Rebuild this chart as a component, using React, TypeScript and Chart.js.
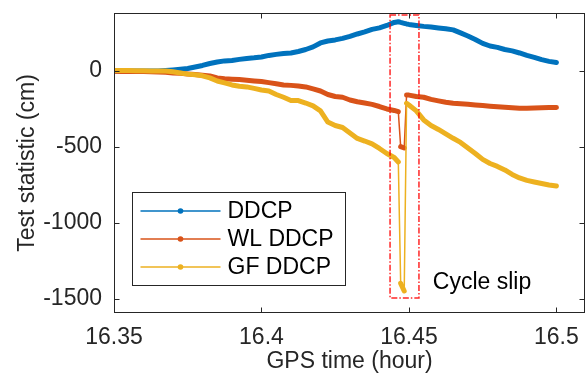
import React, { useEffect, useRef } from 'react';
import { Chart, registerables } from 'chart.js';

Chart.register(...registerables);

// GPS time (hour)
const times = [
  16.35, 16.3525, 16.355, 16.3575, 16.36, 16.3625, 16.365, 16.3675, 16.37, 16.3725,
  16.375, 16.3775, 16.38, 16.3825, 16.385, 16.3875, 16.39, 16.3925, 16.395, 16.3975,
  16.4, 16.4025, 16.405, 16.4075, 16.41, 16.4125, 16.415, 16.4175, 16.42, 16.4225,
  16.425, 16.4275, 16.43, 16.4325, 16.435, 16.4375, 16.44, 16.4425, 16.445,
  16.4464, 16.4472, 16.4484, 16.4492,
  16.45, 16.4525, 16.455, 16.4575, 16.46, 16.4625, 16.465, 16.4675, 16.47, 16.4725,
  16.475, 16.4775, 16.48, 16.4825, 16.485, 16.4875, 16.49, 16.4925, 16.495, 16.4975,
  16.5,
];

const ddcp = [
  0, 0, 0, 0, 0, 0, 0, 3, 7, 11,
  16, 26, 36, 49, 59, 66, 69, 76, 82, 86,
  92, 102, 109, 115, 118, 128, 141, 158, 184, 197,
  204, 214, 227, 243, 257, 273, 283, 299, 319,
  324, 319, 313, 309,
  306, 299, 293, 289, 283, 278, 270, 250, 230, 207,
  181, 164, 155, 141, 132, 118, 102, 89, 74, 63,
  55,
];

const wlDdcp = [
  -2, -3, -3, -4, -4, -5, -7, -9, -13, -16,
  -20, -24, -28, -33, -46, -51, -54, -57, -61, -66,
  -70, -77, -84, -92, -95, -99, -105, -118, -132, -155,
  -168, -173, -191, -203, -211, -220, -234, -250, -260,
  -268, -498, -507, -158,
  -159, -168, -173, -187, -197, -206, -213, -216, -219, -224,
  -228, -232, -235, -239, -242, -245, -245, -243, -242, -241,
  -240,
];

const gfDdcp = [
  3, 3, 3, 2, 1, 0, 0, 0, -5, -13,
  -21, -25, -32, -46, -66, -79, -92, -101, -105, -115,
  -125, -132, -155, -173, -194, -195, -211, -230, -263, -336,
  -359, -372, -408, -444, -461, -480, -510, -543, -569,
  -599, -1397, -1447, -213,
  -224, -263, -322, -359, -385, -414, -443, -470, -507, -543,
  -582, -609, -628, -651, -681, -704, -720, -730, -740, -750,
  -757,
];

const seriesNames = ['DDCP', 'WL DDCP', 'GF DDCP'];
const seriesColors = ['#0072BD', '#D95319', '#EDB120'];
const xTicks = [16.35, 16.4, 16.45, 16.5];
const yTicks = [-1500, -1000, -500, 0];
const xRange = [16.35, 16.5097];
const yRange = [-1592, 381];
const slipBox = [16.4436, 16.4534, -1493, 368]; // x0, x1, y0, y1
const slipLabel = { x: 16.4581, y: -1395, text: 'Cycle slip' };
const xTitle = 'GPS time (hour)';
const yTitle = 'Test statistic (cm)';

const FONT = '"Liberation Sans", Arial, Helvetica, sans-serif';
const AXIS = '#262626';

const decor = {
  id: 'decor',
  afterDatasetsDraw(chart: any) {
    const { ctx, chartArea: a, scales } = chart;
    const x = scales.x;
    const y = scales.y;
    ctx.save();

    // cycle slip box
    const bx0 = x.getPixelForValue(slipBox[0]);
    const bx1 = x.getPixelForValue(slipBox[1]);
    const by0 = y.getPixelForValue(slipBox[2]);
    const by1 = y.getPixelForValue(slipBox[3]);
    ctx.strokeStyle = 'rgba(255,0,0,0.85)';
    ctx.lineWidth = 1.5;
    ctx.setLineDash([6, 2, 1.5, 2]);
    ctx.strokeRect(bx0, by1, bx1 - bx0, by0 - by1);
    ctx.setLineDash([]);

    ctx.fillStyle = '#000';
    ctx.font = `23px ${FONT}`;
    ctx.textAlign = 'left';
    ctx.textBaseline = 'middle';
    ctx.fillText(slipLabel.text, x.getPixelForValue(slipLabel.x), y.getPixelForValue(slipLabel.y));

    // frame
    const L = Math.round(a.left) + 0.5;
    const R = Math.round(a.right) - 0.5;
    const T = Math.round(a.top) + 0.5;
    const B = Math.round(a.bottom) - 0.5;
    ctx.strokeStyle = AXIS;
    ctx.lineWidth = 1;
    ctx.strokeRect(L, T, R - L, B - T);
    const tl = 5;
    ctx.beginPath();
    xTicks.forEach((v) => {
      const px = Math.round(x.getPixelForValue(v)) + 0.5;
      ctx.moveTo(px, B);
      ctx.lineTo(px, B - tl);
      ctx.moveTo(px, T);
      ctx.lineTo(px, T + tl);
    });
    yTicks.forEach((v) => {
      const py = Math.round(y.getPixelForValue(v)) + 0.5;
      ctx.moveTo(L, py);
      ctx.lineTo(L + tl, py);
      ctx.moveTo(R, py);
      ctx.lineTo(R - tl, py);
    });
    ctx.stroke();

    // legend
    const lx = Math.round(a.left) + 18.5;
    const ly = Math.round(a.top) + 179.5;
    const lw = 213;
    const lh = 93;
    ctx.fillStyle = '#fff';
    ctx.fillRect(lx, ly, lw, lh);
    ctx.strokeStyle = AXIS;
    ctx.lineWidth = 1;
    ctx.strokeRect(lx, ly, lw, lh);
    seriesNames.forEach((name, i) => {
      const ry = ly + 18.5 + i * 28;
      ctx.strokeStyle = seriesColors[i];
      ctx.lineWidth = 1.5;
      ctx.beginPath();
      ctx.moveTo(lx + 8, ry);
      ctx.lineTo(lx + 88, ry);
      ctx.stroke();
      ctx.fillStyle = seriesColors[i];
      ctx.beginPath();
      ctx.arc(lx + 48, ry, 2.8, 0, Math.PI * 2);
      ctx.fill();
      ctx.fillStyle = '#000';
      ctx.font = `23px ${FONT}`;
      ctx.textAlign = 'left';
      ctx.textBaseline = 'middle';
      ctx.fillText(name, lx + 95, ry + 1);
    });

    ctx.restore();
  },
};

export default function App() {
  const ref = useRef<HTMLCanvasElement | null>(null);

  useEffect(() => {
    if (!ref.current) return;
    const series = [ddcp, wlDdcp, gfDdcp];
    const chart = new Chart(ref.current, {
      type: 'line',
      data: {
        datasets: series.map((vals, i) => ({
          label: seriesNames[i],
          data: times.map((t, k) => ({ x: t, y: vals[k] })),
          borderColor: seriesColors[i],
          backgroundColor: seriesColors[i],
          borderWidth: 5,
          pointRadius: 0,
          borderCapStyle: 'round',
          borderJoinStyle: 'round',
          tension: 0,
          fill: false,
          order: 3 - i,
          segment: {
            borderWidth: (c: any) => (Math.abs(c.p1.y - c.p0.y) > 25 ? 1.5 : 5),
          },
        })),
      },
      options: {
        animation: false,
        responsive: false,
        devicePixelRatio: 1,
        layout: { padding: { left: 0, right: 1, top: 13, bottom: 0 } },
        plugins: { legend: { display: false }, tooltip: { enabled: false } },
        scales: {
          x: {
            type: 'linear',
            min: xRange[0],
            max: xRange[1],
            grid: { display: false },
            border: { display: false },
            afterBuildTicks: (s: any) => {
              s.ticks = xTicks.map((v) => ({ value: v }));
            },
            afterFit: (s: any) => {
              s.height = 63;
              s.paddingLeft = 0;
              s.paddingRight = 0;
            },
            ticks: {
              callback: (v: any) => String(v),
              font: { family: FONT, size: 23 },
              color: AXIS,
              padding: 3,
              maxRotation: 0,
              autoSkip: false,
            },
            title: {
              display: true,
              text: xTitle,
              font: { family: FONT, size: 23, lineHeight: 1 },
              color: AXIS,
              padding: { top: 0, bottom: 3 },
            },
          },
          y: {
            type: 'linear',
            min: yRange[0],
            max: yRange[1],
            grid: { display: false },
            border: { display: false },
            afterBuildTicks: (s: any) => {
              s.ticks = yTicks.map((v) => ({ value: v }));
            },
            afterFit: (s: any) => {
              s.width = 114;
              s.paddingTop = 0;
              s.paddingBottom = 0;
            },
            ticks: {
              callback: (v: any) => String(v),
              font: { family: FONT, size: 23 },
              color: AXIS,
              padding: 4,
              autoSkip: false,
            },
            title: {
              display: true,
              text: yTitle,
              font: { family: FONT, size: 23 },
              color: AXIS,
              padding: { top: 14, bottom: 0 },
            },
          },
        },
      },
      plugins: [decor],
    } as any);
    return () => chart.destroy();
  }, []);

  return (
    <div style={{ position: 'fixed', left: 0, top: 0, width: 586, height: 376, background: '#fff' }}>
      <canvas ref={ref} width={586} height={376} style={{ display: 'block' }} />
    </div>
  );
}
